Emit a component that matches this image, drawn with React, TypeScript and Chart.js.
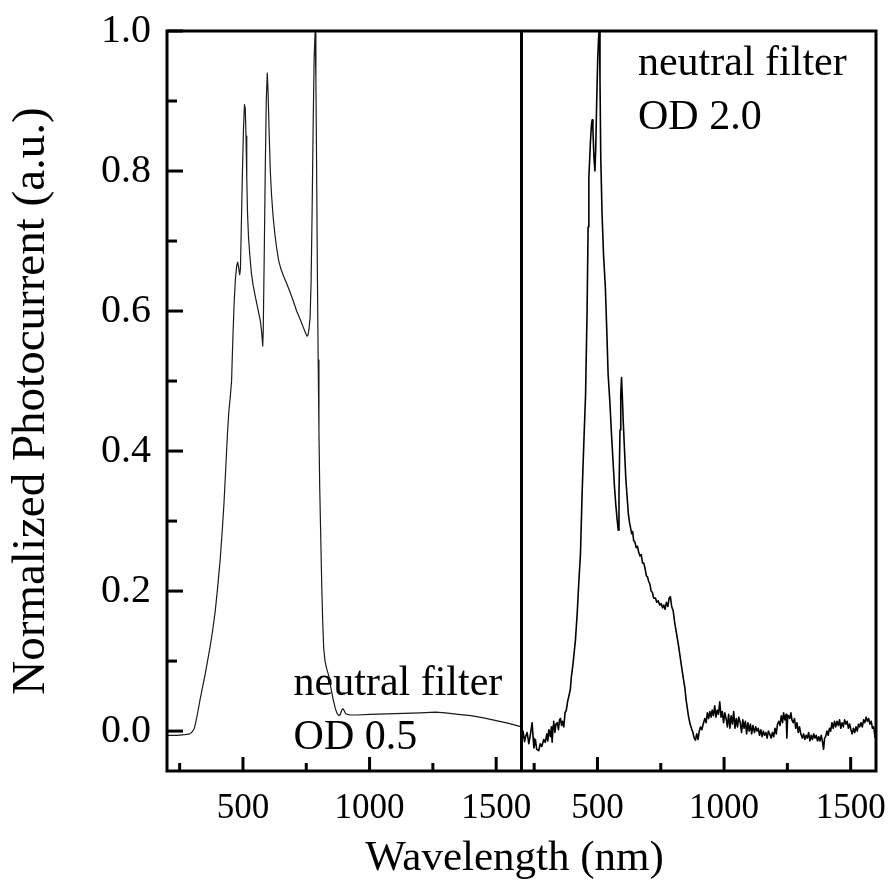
import React, { useEffect, useRef } from "react";
import { Chart, registerables } from "chart.js";

Chart.register(...registerables);

// ---- data (wavelength nm, normalized photocurrent) ----
const od05Spectrum: [number, number][] = [
  [200, -0.006], [240, -0.006], [270, -0.005], [290, -0.004], [300, -0.001], [308, 0.004],
  [315, 0.015], [322, 0.028], [330, 0.044], [340, 0.062], [350, 0.08], [360, 0.1],
  [370, 0.12], [380, 0.143], [390, 0.17], [400, 0.205], [410, 0.245], [418, 0.285],
  [425, 0.325], [432, 0.375], [438, 0.42], [444, 0.455], [450, 0.478], [455, 0.5],
  [460, 0.56], [465, 0.61], [470, 0.645], [475, 0.664], [479, 0.67], [483, 0.662],
  [487, 0.652], [490, 0.66], [494, 0.73], [498, 0.8], [502, 0.86], [506, 0.895],
  [509, 0.89], [512, 0.85], [515, 0.79], [518, 0.74], [522, 0.705], [527, 0.68],
  [533, 0.655], [540, 0.637], [548, 0.622], [556, 0.608], [563, 0.596], [569, 0.585],
  [573, 0.573], [576, 0.56], [578, 0.55], [580, 0.57], [584, 0.68], [588, 0.8],
  [592, 0.9], [596, 0.94], [599, 0.915], [603, 0.86], [608, 0.8], [613, 0.765],
  [619, 0.735], [626, 0.71], [633, 0.69], [641, 0.672], [650, 0.66], [660, 0.65],
  [672, 0.64], [685, 0.628], [698, 0.615], [712, 0.6], [725, 0.589], [738, 0.577],
  [748, 0.568], [753, 0.564], [757, 0.566], [761, 0.575], [765, 0.59], [769, 0.64],
  [773, 0.74], [777, 0.86], [781, 0.96], [785, 1.0], [788, 0.93], [791, 0.8],
  [794, 0.65], [797, 0.53], [800, 0.43], [803, 0.35], [807, 0.28], [811, 0.21],
  [815, 0.155], [819, 0.118], [824, 0.1], [830, 0.09], [838, 0.08], [847, 0.062],
  [857, 0.044], [865, 0.032], [872, 0.025], [879, 0.022], [885, 0.024], [890, 0.03],
  [895, 0.032], [900, 0.029], [905, 0.025], [912, 0.024], [925, 0.023], [950, 0.023],
  [1000, 0.024], [1100, 0.025], [1200, 0.026], [1260, 0.027], [1300, 0.026], [1350, 0.024],
  [1400, 0.022], [1450, 0.019], [1500, 0.015], [1550, 0.011], [1600, 0.006],
];

const od20Spectrum: [number, number][] = [
  [200, -0.02], [206, 0.0], [212, -0.015], [216, -0.008], [222, -0.002], [229, -0.018],
  [235, -0.005], [242, 0.012], [246, -0.01], [249, -0.024], [255, -0.012], [260, -0.026],
  [268, -0.028], [274, -0.018], [280, -0.022], [288, -0.012], [294, -0.016], [300, -0.004],
  [304, -0.014], [308, 0.002], [314, -0.008], [318, 0.006], [321, -0.016], [325, 0.008],
  [327, 0.014], [332, -0.002], [336, 0.01], [341, 0.012], [346, 0.002], [350, 0.016],
  [354, 0.018], [358, 0.008], [362, 0.014], [367, 0.006], [372, 0.026], [377, 0.03],
  [382, 0.042], [387, 0.05], [393, 0.06], [397, 0.078], [400, 0.086], [404, 0.098],
  [413, 0.13], [420, 0.168], [426, 0.21], [433, 0.254], [439, 0.335], [446, 0.41],
  [453, 0.48], [459, 0.6], [463, 0.72], [466, 0.79], [472, 0.84], [476, 0.865],
  [479, 0.873], [482, 0.86], [486, 0.82], [490, 0.8], [493, 0.83], [497, 0.9],
  [501, 0.96], [505, 0.995], [508, 1.0], [510, 0.93], [513, 0.82], [518, 0.74],
  [524, 0.68], [531, 0.635], [537, 0.57], [542, 0.51], [549, 0.47], [556, 0.42],
  [562, 0.382], [567, 0.35], [572, 0.325], [577, 0.305], [582, 0.287], [585, 0.34],
  [589, 0.43], [592, 0.48], [595, 0.505], [598, 0.48], [602, 0.44], [607, 0.4],
  [612, 0.36], [617, 0.335], [622, 0.31], [627, 0.297], [631, 0.29], [635, 0.282],
  [639, 0.285], [643, 0.272], [648, 0.27], [653, 0.262], [658, 0.264], [663, 0.255],
  [668, 0.25], [673, 0.252], [678, 0.24], [683, 0.24], [688, 0.232], [693, 0.222],
  [698, 0.22], [702, 0.214], [707, 0.21], [712, 0.2], [717, 0.198], [722, 0.19],
  [729, 0.19], [734, 0.184], [740, 0.186], [746, 0.18], [752, 0.182], [757, 0.176],
  [762, 0.18], [767, 0.174], [772, 0.184], [778, 0.178], [783, 0.19], [788, 0.192],
  [793, 0.178], [799, 0.172], [805, 0.155], [812, 0.14], [821, 0.12], [827, 0.105],
  [833, 0.09], [840, 0.073], [845, 0.062], [850, 0.045], [855, 0.032], [860, 0.02],
  [866, 0.01], [871, 0.004], [877, -0.002], [882, -0.01], [887, -0.013], [892, -0.004],
  [897, -0.012], [902, 0.0], [907, 0.006], [912, 0.002], [919, 0.012], [924, 0.018],
  [929, 0.012], [934, 0.026], [939, 0.018], [944, 0.028], [949, 0.02], [953, 0.03],
  [958, 0.022], [963, 0.036], [968, 0.02], [973, 0.03], [978, 0.024], [983, 0.042],
  [988, 0.02], [993, 0.028], [998, 0.012], [1003, 0.026], [1008, 0.018], [1013, 0.006],
  [1018, 0.024], [1023, 0.004], [1028, 0.022], [1033, 0.01], [1038, 0.028], [1043, 0.004],
  [1048, 0.018], [1053, 0.006], [1058, 0.02], [1064, 0.012], [1069, -0.002], [1074, 0.016],
  [1079, 0.004], [1084, 0.014], [1089, -0.004], [1094, 0.012], [1099, 0.0], [1104, 0.01],
  [1109, -0.004], [1114, 0.008], [1120, -0.002], [1125, 0.006], [1130, 0.0], [1135, 0.004],
  [1140, -0.006], [1145, 0.002], [1150, -0.008], [1155, 0.0], [1160, -0.006], [1165, -0.002],
  [1170, -0.01], [1175, 0.0], [1180, -0.004], [1186, -0.01], [1191, -0.002], [1196, -0.008],
  [1201, 0.004], [1206, -0.004], [1211, 0.01], [1216, 0.014], [1221, 0.008], [1226, 0.022],
  [1231, 0.012], [1235, 0.026], [1240, 0.016], [1245, 0.024], [1248, -0.01], [1251, 0.02],
  [1254, 0.022], [1259, 0.018], [1264, 0.026], [1268, 0.016], [1273, 0.012], [1278, 0.018],
  [1283, 0.004], [1288, 0.012], [1293, -0.002], [1298, 0.006], [1303, -0.004], [1309, -0.01],
  [1314, -0.004], [1319, -0.012], [1324, -0.006], [1329, -0.01], [1334, -0.002], [1339, -0.014],
  [1344, -0.006], [1349, -0.012], [1354, -0.004], [1359, -0.01], [1364, -0.006], [1369, -0.014],
  [1374, -0.008], [1379, -0.014], [1384, -0.006], [1389, -0.016], [1393, -0.026], [1397, -0.01],
  [1401, -0.008], [1406, 0.0], [1411, -0.006], [1416, 0.004], [1421, 0.0], [1426, 0.012],
  [1431, 0.004], [1436, 0.014], [1441, 0.006], [1446, 0.014], [1451, 0.008], [1456, 0.016],
  [1461, 0.004], [1466, 0.012], [1471, 0.006], [1476, 0.016], [1481, 0.01], [1486, 0.014],
  [1491, 0.004], [1496, 0.01], [1501, 0.002], [1506, -0.004], [1511, 0.004], [1516, -0.002],
  [1521, 0.006], [1526, 0.0], [1531, 0.01], [1536, 0.006], [1541, 0.012], [1546, 0.006],
  [1551, 0.016], [1556, 0.012], [1561, 0.02], [1566, 0.014], [1571, 0.018], [1576, 0.01],
  [1581, 0.014], [1586, 0.004], [1591, 0.006], [1596, -0.008], [1600, -0.012],
];

const xTickValues = [500, 1000, 1500];
const xMinorTickValues = [250, 750, 1250];
const yTickValues = [0, 0.2, 0.4, 0.6, 0.8, 1.0];
const yMinorTickValues = [0.1, 0.3, 0.5, 0.7, 0.9];
const xRange = [200, 1600];
const yRange = [-0.057, 1.0];

const xTitle = "Wavelength (nm)";
const yTitle = "Normalized Photocurrent (a.u.)";
const panelNotes = [
  { scale: "x1", x: 700, y: 0.051, lines: ["neutral filter", "OD 0.5"] },
  { scale: "x2", x: 660, y: 0.937, lines: ["neutral filter", "OD 2.0"] },
];

const FONT = "'Liberation Serif', 'Times New Roman', Times, serif";

const framePlugin = {
  id: "frame",
  afterDatasetsDraw(chart: any) {
    const { ctx, chartArea: a, scales } = chart;
    const y = scales.y;
    ctx.save();
    ctx.strokeStyle = "#000";
    ctx.lineWidth = 3;
    ctx.lineCap = "butt";
    ctx.strokeRect(a.left, a.top, a.right - a.left, a.bottom - a.top);
    ctx.beginPath();
    ctx.moveTo(scales.x2.left, a.top);
    ctx.lineTo(scales.x2.left, a.bottom);
    ctx.stroke();

    const seg = (x0: number, y0: number, x1: number, y1: number) => {
      ctx.beginPath();
      ctx.moveTo(x0, y0);
      ctx.lineTo(x1, y1);
      ctx.stroke();
    };
    for (const v of yTickValues) {
      const py = y.getPixelForValue(v);
      seg(a.left, py, a.left + 16, py);
    }
    for (const v of yMinorTickValues) {
      const py = y.getPixelForValue(v);
      seg(a.left, py, a.left + 10, py);
    }
    for (const s of [scales.x1, scales.x2]) {
      for (const v of xTickValues) {
        const px = s.getPixelForValue(v);
        seg(px, a.bottom, px, a.bottom - 14);
      }
      for (const v of xMinorTickValues) {
        const px = s.getPixelForValue(v);
        seg(px, a.bottom, px, a.bottom - 8);
      }
    }

    ctx.fillStyle = "#000";
    ctx.font = `42px ${FONT}`;
    ctx.textAlign = "left";
    ctx.textBaseline = "alphabetic";
    for (const n of panelNotes) {
      const px = scales[n.scale].getPixelForValue(n.x);
      const py = y.getPixelForValue(n.y);
      n.lines.forEach((t, i) => ctx.fillText(t, px, py + i * 54));
    }

    ctx.font = `43px ${FONT}`;
    ctx.textAlign = "center";
    ctx.fillText(xTitle, (a.left + a.right) / 2 - 7, 870);
    ctx.restore();
  },
};

const zeroPadding = (s: any) => {
  s.paddingTop = 0;
  s.paddingBottom = 0;
  s.paddingLeft = 0;
  s.paddingRight = 0;
};

function xScale() {
  return {
    type: "linear" as const,
    position: "bottom" as const,
    stack: "wavelength",
    stackWeight: 1,
    min: xRange[0],
    max: xRange[1],
    grid: { display: false, drawTicks: false },
    border: { display: false },
    afterBuildTicks: (s: any) => {
      s.ticks = xTickValues.map((v) => ({ value: v }));
    },
    afterFit: (s: any) => {
      s.height = 115;
      zeroPadding(s);
    },
    ticks: {
      color: "#000",
      font: { family: FONT, size: 35 },
      padding: 17,
      maxRotation: 0,
      autoSkip: false,
      callback: (v: any) => String(v),
    },
  };
}

export default function App() {
  const ref = useRef<HTMLCanvasElement | null>(null);
  useEffect(() => {
    if (!ref.current) return;
    const chart = new Chart(ref.current, {
      type: "scatter",
      data: {
        datasets: [
          {
            label: "OD 0.5",
            data: od05Spectrum.map(([x, v]) => ({ x, y: v })),
            xAxisID: "x1",
            yAxisID: "y",
            showLine: true,
            borderColor: "#1a1a1a",
            borderWidth: 1.2,
            borderJoinStyle: "round",
            pointRadius: 0,
            tension: 0,
          },
          {
            label: "OD 2.0",
            data: od20Spectrum.map(([x, v]) => ({ x, y: v })),
            xAxisID: "x2",
            yAxisID: "y",
            showLine: true,
            borderColor: "#000",
            borderWidth: 1.6,
            borderJoinStyle: "round",
            pointRadius: 0,
            tension: 0,
          },
        ],
      },
      options: {
        animation: false,
        responsive: false,
        events: [],
        layout: { padding: { top: 31, right: 17, left: 0, bottom: 0 } },
        plugins: { legend: { display: false }, tooltip: { enabled: false } },
        scales: {
          x1: xScale(),
          x2: xScale(),
          y: {
            type: "linear",
            position: "left",
            min: yRange[0],
            max: yRange[1],
            grid: { display: false, drawTicks: false },
            border: { display: false },
            afterBuildTicks: (s: any) => {
              s.ticks = yTickValues.map((v) => ({ value: v }));
            },
            afterFit: (s: any) => {
              s.width = 167;
              zeroPadding(s);
            },
            ticks: {
              color: "#000",
              font: { family: FONT, size: 40 },
              padding: 16,
              autoSkip: false,
              callback: (v: any) => Number(v).toFixed(1),
            },
            title: {
              display: true,
              text: yTitle,
              color: "#000",
              font: { family: FONT, size: 47, lineHeight: 1.2 },
              padding: { top: 3, bottom: 0 },
            },
          },
        },
      },
      plugins: [framePlugin],
    });
    return () => chart.destroy();
  }, []);
  return (
    <div style={{ position: "absolute", left: 0, top: 0, width: 893, height: 886, background: "#fff" }}>
      <canvas ref={ref} width={893} height={886} style={{ display: "block" }} />
    </div>
  );
}
